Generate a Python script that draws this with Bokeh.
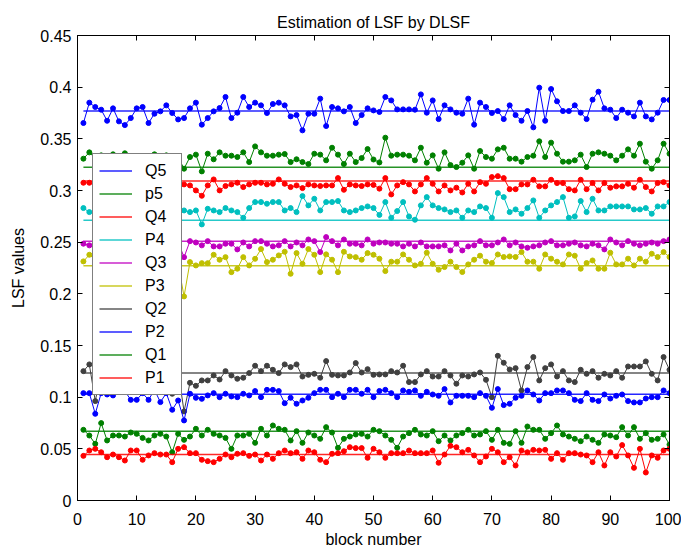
from bokeh.plotting import figure
from bokeh.models import Range1d, LinearAxis, FixedTicker, CustomJSTickFormatter, Legend, LegendItem
from bokeh.embed import file_html
from bokeh.resources import INLINE

blocks = list(range(1, 101))

Q5 = [0.3653, 0.3850, 0.3808, 0.3782, 0.3675, 0.3795, 0.3669, 0.3633, 0.3701, 0.3795,
      0.3808, 0.3653, 0.3743, 0.3766, 0.3824, 0.3750, 0.3688, 0.3701, 0.3795, 0.3850,
      0.3637, 0.3701, 0.3766, 0.3798, 0.3905, 0.3701, 0.3753, 0.3905, 0.3808, 0.3850,
      0.3824, 0.3750, 0.3837, 0.3850, 0.3824, 0.3717, 0.3730, 0.3582, 0.3743, 0.3743,
      0.3889, 0.3624, 0.3808, 0.3795, 0.3766, 0.3808, 0.3653, 0.3730, 0.3795, 0.3775,
      0.3760, 0.3905, 0.3872, 0.3785, 0.3785, 0.3785, 0.3782, 0.3930, 0.3753, 0.3872,
      0.3691, 0.3824, 0.3785, 0.3753, 0.3743, 0.3889, 0.3637, 0.3850, 0.3808, 0.3750,
      0.3769, 0.3691, 0.3824, 0.3730, 0.3675, 0.3769, 0.3611, 0.3995, 0.3675, 0.3982,
      0.3863, 0.3769, 0.3769, 0.3824, 0.3753, 0.3691, 0.3879, 0.3956, 0.3795, 0.3782,
      0.3701, 0.3782, 0.3753, 0.3717, 0.3850, 0.3717, 0.3688, 0.3753, 0.3876, 0.3876]

p5 = [0.3308, 0.3369, 0.3310, 0.3340, 0.3280, 0.3350, 0.3300, 0.3360, 0.3320, 0.3290,
      0.3330, 0.3310, 0.3350, 0.3300, 0.3340, 0.3280, 0.3320, 0.3211, 0.3324, 0.3347,
      0.3185, 0.3356, 0.3302, 0.3369, 0.3337, 0.3337, 0.3324, 0.3369, 0.3275, 0.3427,
      0.3369, 0.3337, 0.3337, 0.3347, 0.3353, 0.3275, 0.3302, 0.3275, 0.3256, 0.3356,
      0.3347, 0.3292, 0.3414, 0.3347, 0.3256, 0.3356, 0.3275, 0.3314, 0.3401, 0.3300,
      0.3272, 0.3511, 0.3337, 0.3347, 0.3347, 0.3337, 0.3292, 0.3414, 0.3269, 0.3340,
      0.3211, 0.3369, 0.3246, 0.3227, 0.3269, 0.3340, 0.3211, 0.3382, 0.3324, 0.3308,
      0.3398, 0.3414, 0.3308, 0.3308, 0.3279, 0.3324, 0.3337, 0.3476, 0.3324, 0.3463,
      0.3356, 0.3279, 0.3279, 0.3292, 0.3347, 0.3227, 0.3356, 0.3369, 0.3356, 0.3337,
      0.3292, 0.3337, 0.3398, 0.3337, 0.3453, 0.3279, 0.3211, 0.3292, 0.3453, 0.3356]

Q4 = [0.3075, 0.3075, 0.3060, 0.3040, 0.3080, 0.3050, 0.3030, 0.3070, 0.3060, 0.3040,
      0.3090, 0.3050, 0.3060, 0.3030, 0.3070, 0.3050, 0.3040, 0.3059, 0.3049, 0.3001,
      0.2949, 0.3049, 0.3107, 0.3001, 0.3043, 0.3059, 0.3075, 0.3033, 0.3059, 0.3075,
      0.3075, 0.3059, 0.3065, 0.3107, 0.3065, 0.3033, 0.3049, 0.3023, 0.3059, 0.3049,
      0.3043, 0.3049, 0.3049, 0.3120, 0.3007, 0.3059, 0.3049, 0.3043, 0.3059, 0.3054,
      0.3018, 0.3120, 0.2962, 0.3049, 0.3081, 0.3059, 0.2991, 0.3059, 0.3120, 0.3065,
      0.2991, 0.3049, 0.3001, 0.3027, 0.2981, 0.3065, 0.2991, 0.3081, 0.3065, 0.3130,
      0.3139, 0.3120, 0.3013, 0.3013, 0.3059, 0.3059, 0.3104, 0.3040, 0.3040, 0.3104,
      0.3072, 0.3072, 0.3013, 0.3001, 0.3104, 0.3013, 0.3072, 0.3001, 0.3072, 0.3027,
      0.3040, 0.3040, 0.3065, 0.3027, 0.3104, 0.3033, 0.2991, 0.3072, 0.3081, 0.3049]

P4 = [0.2830, 0.2791, 0.2780, 0.2800, 0.2830, 0.2770, 0.2810, 0.2840, 0.2790, 0.2820,
      0.2800, 0.2760, 0.2830, 0.2810, 0.2790, 0.2820, 0.2800, 0.2807, 0.2791, 0.2807,
      0.2672, 0.2823, 0.2807, 0.2791, 0.2830, 0.2807, 0.2791, 0.2736, 0.2830, 0.2888,
      0.2888, 0.2872, 0.2888, 0.2888, 0.2807, 0.2830, 0.2791, 0.2946, 0.2856, 0.2920,
      0.2807, 0.2888, 0.2888, 0.2898, 0.2807, 0.2791, 0.2807, 0.2830, 0.2846, 0.2830,
      0.2764, 0.2888, 0.2736, 0.2801, 0.2888, 0.2749, 0.2717, 0.2856, 0.2936, 0.2856,
      0.2830, 0.2817, 0.2791, 0.2807, 0.2736, 0.2807, 0.2791, 0.2846, 0.2830, 0.2736,
      0.2975, 0.2936, 0.2791, 0.2817, 0.2775, 0.2830, 0.2904, 0.2736, 0.2807, 0.2856,
      0.2888, 0.2936, 0.2736, 0.2749, 0.2898, 0.2791, 0.2920, 0.2807, 0.2807, 0.2846,
      0.2846, 0.2846, 0.2846, 0.2817, 0.2817, 0.2830, 0.2775, 0.2846, 0.2846, 0.2888]

Q3 = [0.2485, 0.2469, 0.2500, 0.2480, 0.2510, 0.2490, 0.2470, 0.2500, 0.2520, 0.2480,
      0.2490, 0.2510, 0.2470, 0.2500, 0.2490, 0.2480, 0.2500, 0.2355, 0.2510, 0.2497,
      0.2469, 0.2510, 0.2459, 0.2459, 0.2485, 0.2485, 0.2430, 0.2497, 0.2459, 0.2510,
      0.2510, 0.2485, 0.2459, 0.2469, 0.2510, 0.2459, 0.2497, 0.2469, 0.2526, 0.2510,
      0.2404, 0.2549, 0.2510, 0.2469, 0.2526, 0.2485, 0.2485, 0.2469, 0.2526, 0.2485,
      0.2497, 0.2497, 0.2485, 0.2485, 0.2459, 0.2485, 0.2459, 0.2497, 0.2459, 0.2459,
      0.2459, 0.2469, 0.2420, 0.2485, 0.2420, 0.2459, 0.2469, 0.2510, 0.2469, 0.2469,
      0.2497, 0.2526, 0.2469, 0.2497, 0.2459, 0.2446, 0.2459, 0.2469, 0.2497, 0.2510,
      0.2469, 0.2469, 0.2485, 0.2497, 0.2469, 0.2459, 0.2485, 0.2469, 0.2430, 0.2526,
      0.2497, 0.2469, 0.2510, 0.2485, 0.2469, 0.2485, 0.2497, 0.2485, 0.2510, 0.2526]

P3 = [0.2314, 0.2378, 0.2330, 0.2350, 0.2300, 0.2320, 0.2360, 0.2310, 0.2290, 0.2340,
      0.2320, 0.2300, 0.2350, 0.2330, 0.2310, 0.2340, 0.2290, 0.1975, 0.2307, 0.2275,
      0.2297, 0.2297, 0.2378, 0.2330, 0.2355, 0.2210, 0.2243, 0.2355, 0.2275, 0.2339,
      0.2433, 0.2307, 0.2330, 0.2372, 0.2407, 0.2194, 0.2394, 0.2291, 0.2433, 0.2378,
      0.2210, 0.2382, 0.2330, 0.2210, 0.2407, 0.2362, 0.2355, 0.2330, 0.2394, 0.2378,
      0.2340, 0.2220, 0.2311, 0.2311, 0.2381, 0.2330, 0.2275, 0.2291, 0.2398, 0.2291,
      0.2233, 0.2259, 0.2311, 0.2259, 0.2211, 0.2285, 0.2330, 0.2369, 0.2311, 0.2298,
      0.2381, 0.2356, 0.2362, 0.2356, 0.2404, 0.2311, 0.2311, 0.2243, 0.2381, 0.2340,
      0.2311, 0.2285, 0.2381, 0.2369, 0.2243, 0.2298, 0.2323, 0.2243, 0.2243, 0.2398,
      0.2285, 0.2285, 0.2340, 0.2275, 0.2340, 0.2311, 0.2388, 0.2356, 0.2404, 0.2356]

Q2 = [0.1252, 0.1317, 0.0962, 0.1240, 0.1260, 0.1230, 0.1250, 0.1220, 0.1270, 0.1240,
      0.1230, 0.1260, 0.1250, 0.1230, 0.1240, 0.1033, 0.1250, 0.0862, 0.1139, 0.1110,
      0.1162, 0.1162, 0.1210, 0.1171, 0.1252, 0.1210, 0.1178, 0.1188, 0.1233, 0.1304,
      0.1252, 0.1304, 0.1265, 0.1233, 0.1317, 0.1291, 0.1317, 0.1200, 0.1216, 0.1226,
      0.1188, 0.1349, 0.1216, 0.1210, 0.1210, 0.1239, 0.1330, 0.1239, 0.1271, 0.1216,
      0.1220, 0.1220, 0.1252, 0.1239, 0.1304, 0.1146, 0.1146, 0.1220, 0.1252, 0.1200,
      0.1200, 0.1252, 0.1210, 0.1130, 0.1210, 0.1200, 0.1220, 0.1239, 0.1168, 0.1000,
      0.1400, 0.1333, 0.1268, 0.1281, 0.1065, 0.1291, 0.1388, 0.1162, 0.1281, 0.1317,
      0.1200, 0.1252, 0.1162, 0.1146, 0.1265, 0.1226, 0.1252, 0.1188, 0.1226, 0.1210,
      0.1252, 0.1188, 0.1297, 0.1297, 0.1297, 0.1346, 0.1226, 0.1162, 0.1388, 0.1265]

P2 = [0.1039, 0.1039, 0.0839, 0.1039, 0.1026, 0.1017, 0.1059, 0.1059, 0.0974, 0.0974,
      0.1039, 0.0974, 0.1071, 0.0952, 0.1039, 0.0878, 0.0968, 0.0775, 0.1033, 0.0994,
      0.0984, 0.1017, 0.1039, 0.1000, 0.1033, 0.1007, 0.1000, 0.1033, 0.1017, 0.1059,
      0.1000, 0.1071, 0.1071, 0.1059, 0.0942, 0.0994, 0.0936, 0.0968, 0.0994, 0.1039,
      0.1071, 0.1071, 0.1000, 0.1033, 0.1000, 0.1071, 0.1071, 0.1033, 0.1071, 0.1000,
      0.1060, 0.1071, 0.1039, 0.1000, 0.1065, 0.1052, 0.1065, 0.1013, 0.1052, 0.1026,
      0.1013, 0.1078, 0.0949, 0.1013, 0.1013, 0.1013, 0.1000, 0.1039, 0.1013, 0.0897,
      0.1078, 0.0923, 0.0936, 0.0994, 0.1013, 0.1065, 0.1026, 0.0968, 0.1039, 0.1039,
      0.1065, 0.1065, 0.1039, 0.0974, 0.0962, 0.1039, 0.0974, 0.0962, 0.1026, 0.0987,
      0.1013, 0.1026, 0.0962, 0.0949, 0.0949, 0.0987, 0.1000, 0.1000, 0.1065, 0.1039]

Q1 = [0.0684, 0.0629, 0.0548, 0.0749, 0.0581, 0.0629, 0.0629, 0.0619, 0.0658, 0.0645,
      0.0606, 0.0581, 0.0629, 0.0645, 0.0619, 0.0467, 0.0645, 0.0587, 0.0619, 0.0694,
      0.0629, 0.0684, 0.0645, 0.0629, 0.0606, 0.0500, 0.0629, 0.0629, 0.0645, 0.0558,
      0.0694, 0.0629, 0.0726, 0.0694, 0.0684, 0.0581, 0.0671, 0.0558, 0.0658, 0.0629,
      0.0597, 0.0710, 0.0658, 0.0510, 0.0597, 0.0619, 0.0639, 0.0645, 0.0619, 0.0684,
      0.0671, 0.0629, 0.0587, 0.0510, 0.0619, 0.0652, 0.0684, 0.0639, 0.0629, 0.0671,
      0.0574, 0.0629, 0.0581, 0.0629, 0.0652, 0.0684, 0.0629, 0.0639, 0.0671, 0.0587,
      0.0684, 0.0558, 0.0548, 0.0671, 0.0558, 0.0716, 0.0684, 0.0684, 0.0597, 0.0652,
      0.0726, 0.0639, 0.0619, 0.0597, 0.0574, 0.0619, 0.0587, 0.0558, 0.0639, 0.0629,
      0.0613, 0.0710, 0.0629, 0.0710, 0.0597, 0.0652, 0.0587, 0.0597, 0.0639, 0.0542]

P1 = [0.0432, 0.0484, 0.0500, 0.0467, 0.0419, 0.0445, 0.0419, 0.0387, 0.0484, 0.0484,
      0.0394, 0.0436, 0.0458, 0.0445, 0.0445, 0.0371, 0.0500, 0.0516, 0.0458, 0.0458,
      0.0394, 0.0381, 0.0371, 0.0403, 0.0445, 0.0419, 0.0452, 0.0458, 0.0432, 0.0445,
      0.0387, 0.0445, 0.0403, 0.0458, 0.0484, 0.0458, 0.0467, 0.0403, 0.0484, 0.0467,
      0.0394, 0.0371, 0.0452, 0.0458, 0.0477, 0.0516, 0.0507, 0.0507, 0.0413, 0.0500,
      0.0467, 0.0413, 0.0458, 0.0458, 0.0458, 0.0484, 0.0458, 0.0458, 0.0458, 0.0484,
      0.0365, 0.0445, 0.0529, 0.0516, 0.0467, 0.0490, 0.0436, 0.0371, 0.0426, 0.0500,
      0.0467, 0.0371, 0.0419, 0.0339, 0.0484, 0.0467, 0.0490, 0.0484, 0.0490, 0.0403,
      0.0458, 0.0394, 0.0458, 0.0458, 0.0445, 0.0436, 0.0371, 0.0467, 0.0339, 0.0467,
      0.0426, 0.0536, 0.0436, 0.0316, 0.0500, 0.0271, 0.0436, 0.0413, 0.0484, 0.0500]

names = ["Q5", "p5", "Q4", "P4", "Q3", "P3", "Q2", "P2", "Q1", "P1"]
series = [Q5, p5, Q4, P4, Q3, P3, Q2, P2, Q1, P1]
ref_values = [0.3769, 0.3224, 0.3091, 0.2711, 0.2510, 0.2272, 0.1233, 0.1029, 0.0671, 0.0445]
colors = ["#0000ff", "#008000", "#ff0000", "#00bfbf", "#bf00bf",
          "#bfbf00", "#404040", "#0000ff", "#008000", "#ff0000"]

x_ticks = [0, 10, 20, 30, 40, 50, 60, 70, 80, 90, 100]
y_ticks = [0, 0.05, 0.1, 0.15, 0.2, 0.25, 0.3, 0.35, 0.4, 0.45]

FONT = "Liberation Sans"
FS = "16px"

p = figure(width=681, height=553, output_backend="svg", toolbar_location=None,
           x_range=Range1d(0, 100), y_range=Range1d(0, 0.45),
           min_border_left=77, min_border_right=12, min_border_top=35, min_border_bottom=53,
           title="Estimation of LSF by DLSF")
p.background_fill_color = "white"
p.border_fill_color = "white"
p.outline_line_color = "black"
p.outline_line_width = 1
p.xgrid.visible = False
p.ygrid.visible = False

p.title.text_font = FONT
p.title.text_font_size = FS
p.title.text_font_style = "normal"
p.title.align = "center"
p.title.standoff = 10
p.title.text_color = "black"

fmt = CustomJSTickFormatter(code="return String(Math.round(tick*100)/100);")

def style_axis(ax, ticks, labels=True):
    ax.ticker = FixedTicker(ticks=ticks)
    ax.major_tick_in = 5
    ax.major_tick_out = 0
    ax.minor_tick_line_color = None
    ax.axis_line_color = "black"
    ax.major_tick_line_color = "black"
    ax.major_label_text_font = FONT
    ax.major_label_text_font_size = FS if labels else "0px"
    ax.major_label_text_color = "black"
    ax.axis_label_text_font = FONT
    ax.axis_label_text_font_size = FS
    ax.axis_label_text_font_style = "normal"
    ax.axis_label_text_color = "black"
    if not labels:
        ax.major_label_standoff = 0

style_axis(p.xaxis[0], x_ticks)
style_axis(p.yaxis[0], y_ticks)
p.yaxis[0].formatter = fmt
p.xaxis[0].axis_label = "block number"
p.yaxis[0].axis_label = "LSF values"
p.xaxis[0].major_label_standoff = 12
p.yaxis[0].major_label_standoff = 6
p.xaxis[0].axis_label_standoff = 3
p.yaxis[0].axis_label_standoff = 10

top_ax = LinearAxis()
style_axis(top_ax, x_ticks, labels=False)
top_ax.major_label_standoff = 7
p.add_layout(top_ax, "above")
right_ax = LinearAxis()
style_axis(right_ax, y_ticks, labels=False)
p.add_layout(right_ax, "right")

items = []
for name, ys, ref, col in zip(names, series, ref_values, colors):
    r = p.line([blocks[0], blocks[-1]], [ref, ref], line_color=col, line_width=1.5, line_alpha=0.85)
    p.line(blocks, ys, line_color=col, line_width=1)
    p.scatter(blocks, ys, size=5, fill_color=col, line_color=col, marker="circle")
    items.append(LegendItem(label=name, renderers=[r]))

legend = Legend(items=items, location=(15, 105))
legend.border_line_color = "black"
legend.border_line_width = 1
legend.background_fill_color = "white"
legend.background_fill_alpha = 1.0
legend.label_text_font = FONT
legend.label_text_font_size = FS
legend.label_text_color = "black"
legend.glyph_width = 33
legend.glyph_height = 21
legend.label_height = 21
legend.label_width = 30
legend.spacing = 2
legend.padding = 6
legend.margin = 0
legend.label_standoff = 13
p.add_layout(legend)

open("out.html", "w").write(file_html(p, INLINE))
